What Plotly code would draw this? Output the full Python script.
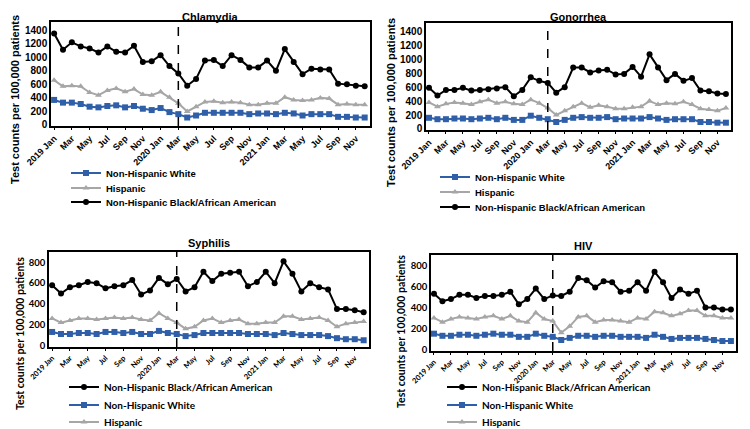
import plotly.graph_objects as go

months = ["2019 Jan","Feb","Mar","Apr","May","Jun","Jul","Aug","Sep","Oct","Nov","Dec",
          "2020 Jan","Feb","Mar","Apr","May","Jun","Jul","Aug","Sep","Oct","Nov","Dec",
          "2021 Jan","Feb","Mar","Apr","May","Jun","Jul","Aug","Sep","Oct","Nov","Dec"]
tick_idx = list(range(0, 36, 2))
tick_text = [months[i] for i in tick_idx]
dashed_month = 14  # 2020 Mar

# Chlamydia
chl_white = [370,330,330,310,270,260,280,290,260,280,240,220, 250,190,160,110,140,180,180,180,180,180,160,170, 170,160,180,170,140,160,160,160,120,120,110,110]
chl_hisp = [660,570,580,570,480,440,510,540,490,530,450,440, 490,410,320,200,270,340,350,330,340,330,300,300, 320,320,410,370,360,370,400,390,300,310,300,300]
chl_black = [1350,1110,1220,1160,1130,1070,1160,1080,1070,1170,930,940, 1030,870,760,580,680,950,960,870,1030,960,850,850, 950,800,1120,930,750,830,820,820,610,600,580,570]

# Gonorrhea
gon_white = [160,140,140,150,150,140,150,160,140,160,130,130, 190,160,140,100,130,160,170,160,160,170,140,150, 150,150,170,150,130,140,140,140,100,100,90,90]
gon_hisp = [380,320,360,380,370,350,390,420,370,390,360,350, 420,370,300,200,260,320,370,310,340,320,290,290, 310,320,400,350,370,360,390,350,290,280,260,300]
gon_black = [590,480,560,560,590,550,560,570,580,600,470,560, 740,690,660,520,600,880,880,810,840,850,780,790, 890,750,1070,880,700,790,690,730,550,540,510,500]

# Syphilis
syp_black = [580,500,560,580,610,600,550,570,580,630,490,530, 650,590,640,520,560,710,620,690,700,710,570,610, 710,600,810,690,520,600,560,540,350,350,340,320]
syp_white = [130,110,110,120,120,110,130,130,120,130,110,110, 140,120,110,90,100,120,120,120,120,120,110,110, 110,100,120,110,100,100,100,90,70,60,60,50]
syp_hisp = [260,220,240,260,260,250,260,270,260,270,250,240, 310,260,220,160,180,240,260,220,240,250,210,210, 220,220,280,280,250,260,270,240,180,210,220,230]

# HIV
hiv_black = [530,460,480,520,520,490,510,510,520,550,430,480, 580,480,515,510,550,680,660,590,650,640,550,560, 640,560,740,640,490,570,530,560,400,400,380,380]
hiv_white = [150,130,130,140,140,130,140,150,140,140,120,120, 150,130,120,90,110,130,130,120,130,130,120,120, 120,110,140,120,100,110,110,110,100,90,80,80]
hiv_hisp = [300,260,290,310,300,290,310,320,290,320,270,260, 350,290,270,160,220,310,320,260,280,280,270,260, 300,290,360,350,320,340,370,370,320,320,300,300]

ARIAL = "Liberation Sans, Arial, sans-serif"
CALIBRI = "Lato, Carlito, Calibri, sans-serif"

panels = [
    dict(title="Chlamydia", series=[("Non-Hispanic White", chl_white), ("Hispanic", chl_hisp), ("Non-Hispanic Black/African American", chl_black)],
         ymax=1520, box=(43, 362, 14, 118), title_y=9, ytitle=(7, 92), legend_x=58, legend_rows=(173, 188, 202),
         font=ARIAL, xtick=9, ytick=10, ytitle_size=11, leg_size=9.5),
    dict(title="Gonorrhea", series=[("Non-Hispanic White", gon_white), ("Hispanic", gon_hisp), ("Non-Hispanic Black/African American", gon_black)],
         ymax=1520, box=(418, 723, 15, 122), title_y=9, ytitle=(383, 95), legend_x=427, legend_rows=(177, 192, 207),
         font=ARIAL, xtick=9, ytick=10, ytitle_size=11, leg_size=9.5),
    dict(title="Syphilis", series=[("Non-Hispanic Black/African American", syp_black), ("Non-Hispanic White", syp_white), ("Hispanic", syp_hisp)],
         ymax=900, box=(41, 361, 244, 339), title_y=235, ytitle=(12, 326), legend_x=56, legend_rows=(387, 405, 422),
         font=CALIBRI, xtick=7.5, ytick=9.5, ytitle_size=10.5, leg_size=10),
    dict(title="HIV", series=[("Non-Hispanic Black/African American", hiv_black), ("Non-Hispanic White", hiv_white), ("Hispanic", hiv_hisp)],
         ymax=900, box=(423, 728, 247, 343), title_y=238, ytitle=(393, 324), legend_x=434, legend_rows=(387, 405, 422),
         font=CALIBRI, xtick=7.5, ytick=9.5, ytitle_size=10.5, leg_size=10),
]

styles = {
    "Non-Hispanic White": dict(color="#2E5FA8", symbol="square"),
    "Hispanic": dict(color="#A6A6A6", symbol="triangle-up"),
    "Non-Hispanic Black/African American": dict(color="#000000", symbol="circle"),
}

W, H = 750, 429
LEG_OFF = 8  # legend box centre sits this far above its text centre
fig = go.Figure()
layout = dict(template="none", width=W, height=H, margin=dict(l=0, r=0, t=0, b=0, autoexpand=False),
              paper_bgcolor="white", plot_bgcolor="white", showlegend=True,
              font=dict(family=ARIAL, color="black"), annotations=[], shapes=[])

lg_count = 0
for i, p in enumerate(panels):
    n = "" if i == 0 else str(i + 1)
    x0, x1, y0, y1 = p["box"]
    fam = p["font"]
    for (name, vals), row_y in zip(p["series"], p["legend_rows"]):
        lg_count += 1
        lg = "legend" if lg_count == 1 else f"legend{lg_count}"
        st = styles[name]
        fig.add_trace(go.Scatter(
            x=list(range(36)), y=vals, mode="lines+markers", name=name, showlegend=True,
            line=dict(color=st["color"], width=2),
            marker=dict(color=st["color"], symbol=st["symbol"], size=6),
            xaxis="x" + n, yaxis="y" + n, legend=lg))
        layout[lg] = dict(x=p["legend_x"] / W, y=1 - (row_y - LEG_OFF) / H, xanchor="left", yanchor="middle",
                          xref="paper", yref="paper", font=dict(family=fam, size=p["leg_size"], weight="bold"),
                          bgcolor="rgba(0,0,0,0)", itemwidth=30, borderwidth=0)
    layout["xaxis" + n] = dict(domain=[x0 / W, x1 / W], anchor="y" + n, range=[-0.35, 35.6], automargin=False,
                               tickmode="array", tickvals=tick_idx, ticktext=tick_text, tickangle=-45,
                               tickfont=dict(family=fam, size=p["xtick"], weight="bold"), showgrid=False, zeroline=False,
                               showline=True, linecolor="black", linewidth=1.5, mirror=True,
                               ticks="outside", ticklen=2, tickcolor="black")
    layout["yaxis" + n] = dict(domain=[1 - y1 / H, 1 - y0 / H], anchor="x" + n, range=[-15, p["ymax"]],
                               automargin=False, dtick=200, tick0=0,
                               tickfont=dict(family=fam, size=p["ytick"], weight="bold"),
                               showgrid=False, zeroline=False, showline=True, linecolor="black",
                               linewidth=1.5, mirror=True, ticks="")
    layout["shapes"].append(dict(type="line", xref="x" + n, yref="paper", x0=dashed_month, x1=dashed_month,
                                 y0=1 - y1 / H, y1=1 - y0 / H, line=dict(color="black", width=1.5, dash="dash")))
    layout["annotations"].append(dict(text="<b>" + p["title"] + "</b>", xref="paper", yref="paper",
                                      x=(x0 + x1) / 2 / W, y=1 - p["title_y"] / H, showarrow=False,
                                      font=dict(family=ARIAL, size=11), xanchor="center", yanchor="middle"))
    tx, ty = p["ytitle"]
    layout["annotations"].append(dict(text="<b>Test counts per 100,000 patients</b>", xref="paper", yref="paper",
                                      x=tx / W, y=1 - ty / H, showarrow=False, textangle=-90,
                                      font=dict(family=fam, size=p["ytitle_size"]), xanchor="center", yanchor="middle"))

fig.update_layout(**layout)
fig.write_html("out.html")
